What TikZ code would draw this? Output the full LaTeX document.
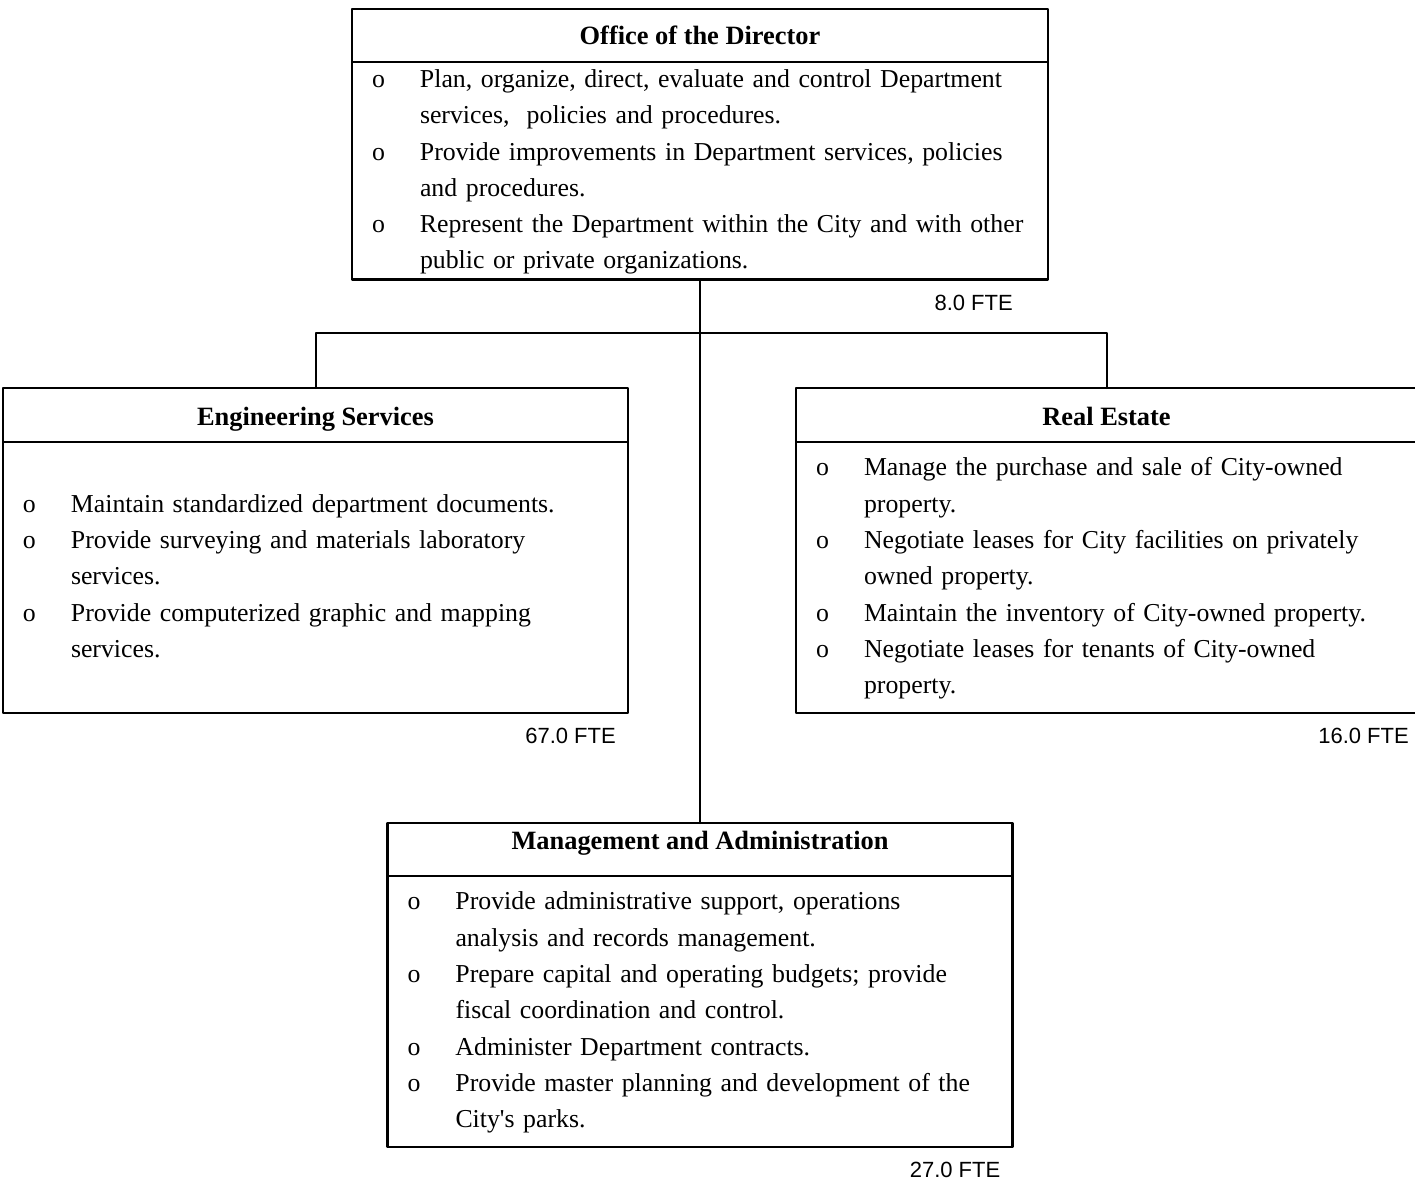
\documentclass[tikz,border=0pt]{standalone}
\usepackage{fontspec}
\setmainfont{Liberation Serif}[Ligatures=TeXOff]
\newfontfamily\ftefont{Liberation Sans}
\usetikzlibrary{positioning}

\newcommand{\duties}[1]{\noindent\begin{tabular}{@{}p{48pt}@{}l@{}}#1\end{tabular}}

\tikzset{
  unithead/.style 2 args={draw,line width=2.8pt,inner sep=0pt,outer sep=0pt,
    font=\bfseries\fontsize{26.4}{36.3}\selectfont,text height=#1,text depth=#2},
  unitbody/.style={draw,line width=2.8pt,inner xsep=20pt,inner ysep=0pt,outer sep=0pt,align=left,
    font=\fontsize{25.8}{36.3}\selectfont},
  fte/.style={inner sep=0pt,anchor=base east,font=\ftefont\fontsize{22}{26}\selectfont}
}

\begin{document}
\begin{tikzpicture}[line cap=round,line join=round,x=1pt,y=-1pt]
\useasboundingbox (0,0) rectangle (1415,1180);
% office of the director
\node [unithead={36pt}{17pt},minimum width=696pt,anchor=north] (dirhead) at (700,9) {Office of the Director};
\node [unitbody,text width=656pt,minimum height=217pt,below=0pt of dirhead] (dirbody) {\duties{%
o & Plan, organize, direct, evaluate and control Department\\
  & services,\ \ policies and procedures.\\
o & Provide improvements in Department services, policies\\
  & and procedures.\\
o & Represent the Department within the City and with other\\
  & public or private organizations.}};
% engineering services
\node [unithead={37pt}{17pt},minimum width=625pt,anchor=north] (enghead) at (315.5,388) {Engineering Services};
\node [unitbody,text width=585pt,minimum height=271pt,below=0pt of enghead] (engbody) {\duties{%
o & Maintain standardized department documents.\\
o & Provide surveying and materials laboratory\\
  & services.\\
o & Provide computerized graphic and mapping\\
  & services.}};
% real estate
\node [unithead={37pt}{17pt},minimum width=621pt,anchor=north] (rehead) at (1106.5,388) {Real Estate};
\node [unitbody,text width=581pt,minimum height=271pt,below=0pt of rehead] (rebody) {\duties{%
o & Manage the purchase and sale of City-owned\\
  & property.\\
o & Negotiate leases for City facilities on privately\\
  & owned property.\\
o & Maintain the inventory of City-owned property.\\
o & Negotiate leases for tenants of City-owned\\
  & property.}};
% management and administration
\node [unithead={26pt}{27pt},minimum width=625pt,anchor=north] (mgthead) at (700,823) {Management and Administration};
\node [unitbody,text width=585pt,minimum height=271pt,below=0pt of mgthead] (mgtbody) {\duties{%
o & Provide administrative support, operations\\
  & analysis and records management.\\
o & Prepare capital and operating budgets; provide\\
  & fiscal coordination and control.\\
o & Administer Department contracts.\\
o & Provide master planning and development of the\\
  & City's parks.}};
% staffing
\node [fte] (dirfte) at ([shift={(-35,31)}]dirbody.south east) {8.0 FTE};
\node [fte] (engfte) at ([shift={(-12,30)}]engbody.south east) {67.0 FTE};
\node [fte] (refte) at ([shift={(-8,30)}]rebody.south east) {16.0 FTE};
\node [fte] (mgtfte) at ([shift={(-12,30)}]mgtbody.south east) {27.0 FTE};
% connectors
\coordinate (junc) at (700,333);
\draw [line width=2pt] (dirbody.south) -- (mgthead.north);
\draw [line width=2pt] (junc) -| (enghead.north);
\draw [line width=2pt] (junc) -| (rehead.north);
\end{tikzpicture}
\end{document}
